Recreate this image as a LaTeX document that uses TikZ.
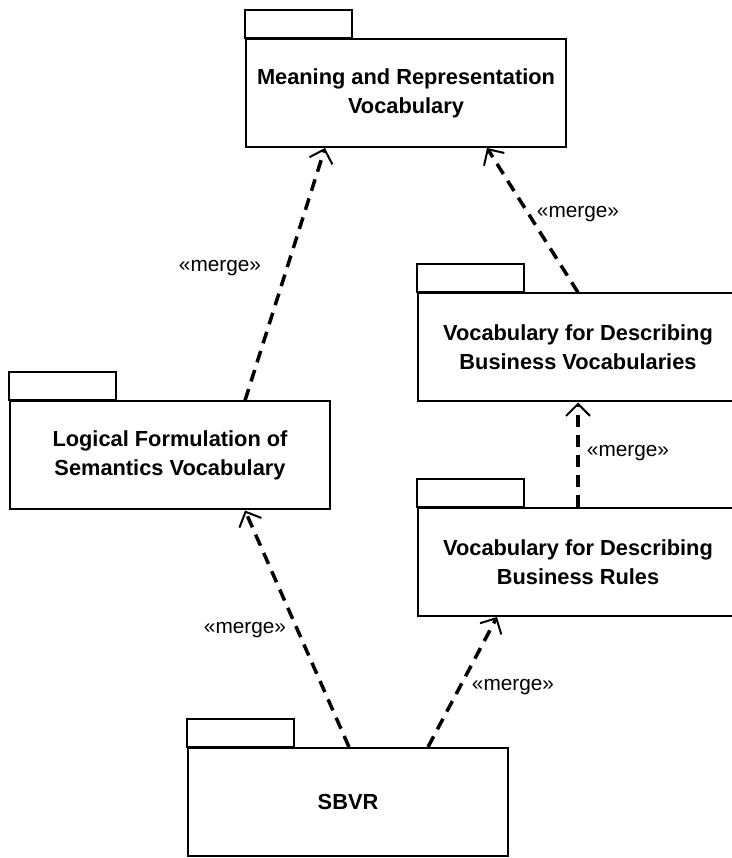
\documentclass[tikz,border=0pt]{standalone}
\usepackage{fontspec}
\setmainfont{Liberation Sans}
\usetikzlibrary{arrows.meta,positioning}
\tikzset{
  sbvr/pkg/.style={
    draw=black,
    line width=2pt,
    fill=white,
    align=center,
    minimum width=320pt,
    minimum height=108pt,
    inner sep=0pt,
    font=\fontsize{21.8}{29}\selectfont\bfseries
  },
  sbvr/tab/.style={draw=black, line width=2pt},
  sbvr/merge/.style={-{Straight Barb[length=12pt,width=24pt,line width=2pt]}, line width=3.5pt, dash pattern=on 12pt off 8pt},
  sbvr/label/.style={font=\fontsize{20.8}{24}\selectfont}
}

\begin{document}
\begin{tikzpicture}[x=1pt,y=1pt]
  \useasboundingbox (0,0) rectangle (731,858);
  \node[sbvr/pkg] (mrv) at (406,765) {Meaning and Representation\\Vocabulary};
  \node[sbvr/pkg] (vdbv) at (578,510.5) {Vocabulary for Describing\\Business Vocabularies};
  \node[sbvr/pkg] (vdbr) at (578,296) {Vocabulary for Describing\\Business Rules};
  \node[sbvr/pkg] (lfsv) at (170,402.5) {Logical Formulation of\\Semantics Vocabulary};
  \node[sbvr/pkg] (sbvr) at (348,56) {SBVR};
  \foreach \p in {mrv,vdbv,vdbr,lfsv,sbvr}{\draw[sbvr/tab] (\p.north west) rectangle ++(107,28);}
  \draw[sbvr/merge] ([xshift=75pt]lfsv.north) -- ([xshift=-81pt]mrv.south);
  \draw[sbvr/merge] (vdbv.north) -- ([xshift=81pt]mrv.south);
  \draw[sbvr/merge] (vdbr.north) -- (vdbv.south);
  \draw[sbvr/merge] ([xshift=1pt]sbvr.north) -- ([xshift=75pt]lfsv.south);
  \draw[sbvr/merge] ([xshift=80pt]sbvr.north) -- ([xshift=-81pt]vdbr.south);
  \node[sbvr/label] (m1) at (220,590) {«merge»};
  \node[sbvr/label] (m2) at (578,644) {«merge»};
  \node[sbvr/label] (m3) at (628,405) {«merge»};
  \node[sbvr/label] (m4) at (245,228) {«merge»};
  \node[sbvr/label] (m5) at (513,171) {«merge»};
\end{tikzpicture}
\end{document}
